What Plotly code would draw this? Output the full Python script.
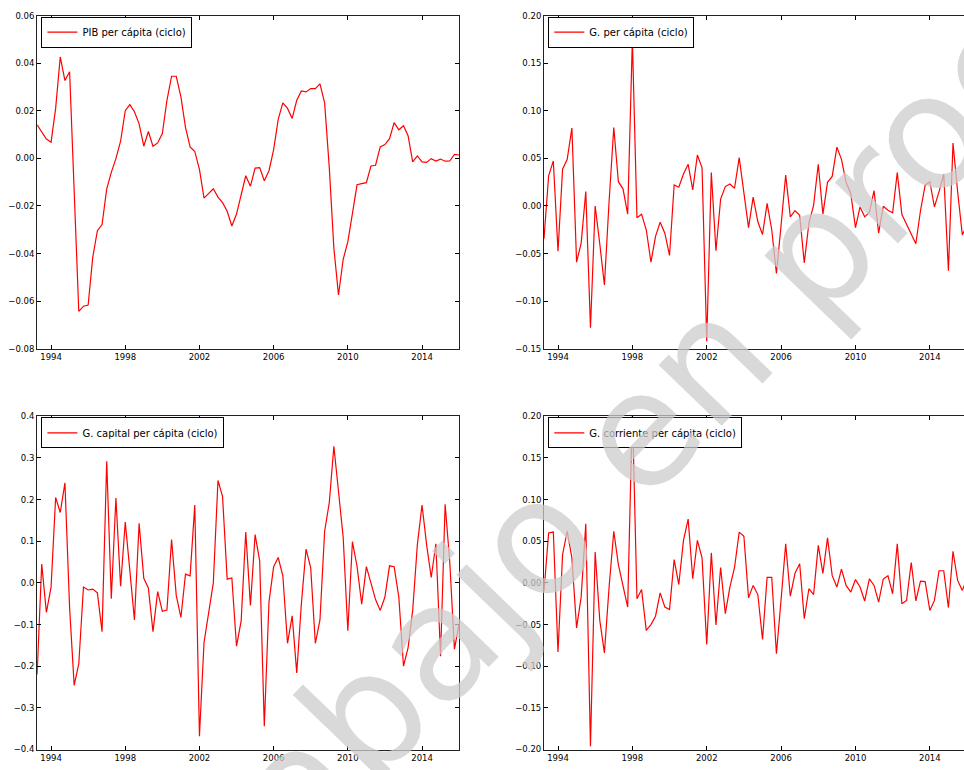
import pandas as pd
import plotly.graph_objects as go

# Quarterly cyclical components (HP-filtered), 1993Q2-2016Q1
fechas = pd.date_range("1993-04-01", periods=92, freq="QS")

pib_ciclo = [
    0.0141, 0.011, 0.0081, 0.0068, 0.021, 0.0426, 0.0327, 0.0364, -0.014, -0.0643,
    -0.0621, -0.0616, -0.0415, -0.0304, -0.0278, -0.0128, -0.0059, -0.0001, 0.0072, 0.020,
    0.0226, 0.0196, 0.0145, 0.0051, 0.0113, 0.0051, 0.0065, 0.0104, 0.0244, 0.0345,
    0.0345, 0.0258, 0.013, 0.0048, 0.0029, -0.0046, -0.0167, -0.0146, -0.0128, -0.0163,
    -0.0186, -0.0222, -0.0284, -0.0234, -0.0149, -0.0073, -0.0117, -0.0041, -0.0039, -0.0094,
    -0.0052, 0.0037, 0.0164, 0.0233, 0.021, 0.0168, 0.0244, 0.0283, 0.0279, 0.0293,
    0.0293, 0.0313, 0.0233, -0.004, -0.0377, -0.0574, -0.0425, -0.035, -0.0232, -0.0111,
    -0.0106, -0.0102, -0.0032, -0.0029, 0.0048, 0.0058, 0.0083, 0.015, 0.012, 0.0137,
    0.0095, -0.0015, 0.001, -0.0015, -0.0017, -0.0001, -0.0011, -0.0003, -0.0012, -0.0011,
    0.0017, 0.0014,
]

gasto_ciclo = [
    -0.0345, 0.0317, 0.0473, -0.0476, 0.0386, 0.049, 0.0818, -0.059, -0.039, 0.0152,
    -0.128, 0.0, -0.04, -0.083, 0.005, 0.0825, 0.0255, 0.018, -0.0086, 0.175,
    -0.0124, -0.0086, -0.025, -0.059, -0.032, -0.017, -0.0286, -0.052, 0.022, 0.0197,
    0.0335, 0.0438, 0.0169, 0.0535, 0.040, -0.142, 0.0352, -0.047, 0.0072, 0.0204,
    0.0231, 0.0186, 0.0507, 0.012, -0.0228, 0.0093, -0.0166, -0.030, 0.0028, -0.025,
    -0.071, -0.02, 0.0324, -0.0114, -0.0048, -0.0097, -0.0597, -0.018, 0.0007, 0.0438,
    -0.0086, 0.0248, 0.031, 0.0618, 0.049, 0.0248, 0.0128, -0.0228, -0.001, -0.0114,
    -0.0069, 0.0162, -0.0286, -0.0003, -0.0045, -0.0072, 0.0352, -0.009, -0.019, -0.0286,
    -0.0397, -0.005, 0.022, 0.0255, -0.001, 0.015, 0.0335, -0.068, 0.066, 0.015,
    -0.0304, -0.02,
]

capital_ciclo = [
    -0.22, 0.045, -0.071, -0.01, 0.205, 0.169, 0.24, -0.06, -0.246, -0.194,
    -0.010, -0.017, -0.015, -0.024, -0.117, 0.292, -0.038, 0.204, -0.008, 0.146,
    0.03, -0.089, 0.143, 0.011, -0.012, -0.117, -0.021, -0.068, -0.065, 0.104,
    -0.030, -0.083, 0.021, 0.017, 0.187, -0.368, -0.143, -0.073, 0.0, 0.246,
    0.207, 0.009, 0.012, -0.152, -0.092, 0.122, -0.054, 0.116, 0.053, -0.344,
    -0.046, 0.039, 0.061, 0.017, -0.145, -0.079, -0.216, -0.05, 0.081, 0.036,
    -0.145, -0.089, 0.124, 0.193, 0.328, 0.22, 0.11, -0.115, 0.099, 0.04,
    -0.051, 0.039, 0.0, -0.04, -0.066, -0.034, 0.041, 0.039, -0.034, -0.2,
    -0.156, -0.066, 0.092, 0.187, 0.092, 0.013, 0.094, -0.176, 0.189, 0.05,
    -0.159, -0.099,
]

corriente_ciclo = [
    -0.01, 0.060, 0.061, -0.083, 0.034, 0.062, 0.030, -0.054, -0.017, 0.071,
    -0.196, 0.037, -0.045, -0.084, -0.005, 0.062, 0.022, -0.005, -0.029, 0.21,
    -0.019, -0.008, -0.057, -0.05, -0.040, -0.012, -0.029, -0.032, 0.028, -0.002,
    0.051, 0.0765, 0.005, 0.051, 0.030, -0.074, 0.036, -0.0505, 0.0185, -0.037,
    -0.005, 0.0185, 0.061, 0.056, -0.018, -0.003, -0.014, -0.068, 0.0067, 0.0067,
    -0.085, -0.02, 0.047, -0.016, 0.0115, 0.023, -0.043, -0.007, -0.014, 0.045,
    0.0115, 0.054, 0.0087, -0.005, 0.0166, -0.003, -0.011, 0.004, -0.005, -0.0217,
    0.0047, -0.003, -0.023, 0.0047, 0.0087, -0.013, 0.047, -0.025, -0.021, 0.0245,
    -0.0217, 0.002, 0.0016, -0.033, -0.021, 0.0146, 0.0146, -0.0296, 0.038, 0.003,
    -0.009, 0.005,
]

nombres = [
    "PIB per cápita (ciclo)",
    "G. per cápita (ciclo)",
    "G. capital per cápita (ciclo)",
    "G. corriente per cápita (ciclo)",
]
series = [pib_ciclo, gasto_ciclo, capital_ciclo, corriente_ciclo]

W, H = 964, 770
FONT = "DejaVu Sans"

# panel geometry in pixels: (left, right, top, bottom)
paneles = [
    (37.1, 459.1, 10.7, 348.3),
    (544.0, 967.0, 10.7, 348.3),
    (37.1, 459.1, 416.7, 754.3),
    (544.0, 967.0, 416.7, 754.3),
]
rangos_y = [(-0.08, 0.06, 0.02, ".2f"), (-0.15, 0.20, 0.05, ".2f"),
            (-0.4, 0.4, 0.1, ".1f"), (-0.20, 0.20, 0.05, ".2f")]

fig = go.Figure()
t0, t1 = fechas[0], fechas[-1]

for i, (nombre, valores) in enumerate(zip(nombres, series)):
    sfx = "" if i == 0 else str(i + 1)
    fig.add_trace(go.Scatter(
        x=fechas, y=valores, mode="lines", name=nombre,
        line=dict(color="#ff0000", width=1.2),
        xaxis="x" + sfx, yaxis="y" + sfx,
        legend="legend" + sfx, showlegend=True,
    ))

    left, right, top, bottom = paneles[i]
    # panels on the right run past the page edge: show only the visible part
    frac = (min(right, W) - left) / (right - left)
    x_end = t0 + (t1 - t0) * frac
    ymin, ymax, dy, fmt = rangos_y[i]
    espejo_y = "ticks" if right <= W else False

    fig.layout["xaxis" + sfx] = dict(
        domain=[left / W, min(right, W) / W],
        anchor="y" + sfx,
        type="date",
        range=[t0, x_end],
        tick0="1994-01-01", dtick="M48", tickformat="%Y",
        ticks="inside", ticklen=4, tickcolor="#000", tickwidth=1,
        showline=True, linecolor="#222", linewidth=1, mirror="ticks",
        showgrid=False, zeroline=False,
        tickfont=dict(family=FONT, size=8.5, color="#000"),
    )
    fig.layout["yaxis" + sfx] = dict(
        domain=[1 - bottom / H, 1 - top / H],
        anchor="x" + sfx,
        range=[ymin, ymax],
        tick0=0, dtick=dy, tickformat=fmt,
        ticks="inside", ticklen=4, tickcolor="#000", tickwidth=1,
        showline=True, linecolor="#222", linewidth=1, mirror=espejo_y,
        showgrid=False, zeroline=False,
        tickfont=dict(family=FONT, size=8.5, color="#000"),
    )
    fig.layout["legend" + sfx] = dict(
        x=(left + 4.3) / W, y=1 - (top + 1.0) / H,
        xanchor="left", yanchor="top",
        xref="paper", yref="paper",
        bgcolor="#ffffff", bordercolor="#000", borderwidth=1,
        font=dict(family=FONT, size=10, color="#000"),
        itemwidth=30,
    )

# diagonal watermark over the whole figure
fig.add_annotation(
    text="trabajo en proceso", xref="paper", yref="paper",
    x=693 / W, y=1 - 375 / H, xanchor="center", yanchor="middle",
    showarrow=False, textangle=-46,
    font=dict(family=FONT, size=160, color="rgba(204,204,204,0.75)"),
)

fig.update_layout(
    width=W, height=H,
    margin=dict(l=0, r=0, t=0, b=0),
    paper_bgcolor="#ffffff", plot_bgcolor="#ffffff",
    hovermode=False,
)

fig.write_html("out.html")
